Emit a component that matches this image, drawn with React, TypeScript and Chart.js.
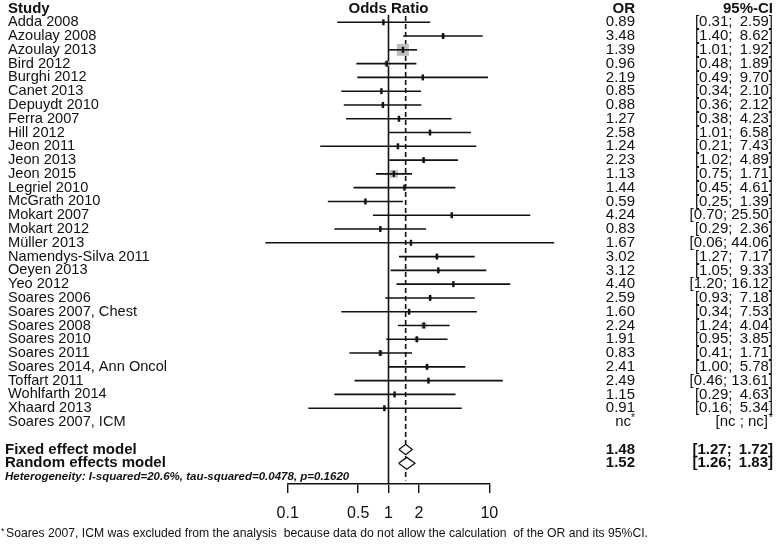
import React, { useEffect, useRef } from 'react';
import { Chart, registerables } from 'chart.js';

Chart.register(...registerables);

const studies = [
  'Adda 2008', 'Azoulay 2008', 'Azoulay 2013', 'Bird 2012', 'Burghi 2012', 'Canet 2013',
  'Depuydt 2010', 'Ferra 2007', 'Hill 2012', 'Jeon 2011', 'Jeon 2013', 'Jeon 2015',
  'Legriel 2010', 'McGrath 2010', 'Mokart 2007', 'Mokart 2012', 'Müller 2013',
  'Namendys-Silva 2011', 'Oeyen 2013', 'Yeo 2012', 'Soares 2006', 'Soares 2007, Chest',
  'Soares 2008', 'Soares 2010', 'Soares 2011', 'Soares 2014, Ann Oncol', 'Toffart 2011',
  'Wohlfarth 2014', 'Xhaard 2013', 'Soares 2007, ICM',
];
const oddsRatios: (number | null)[] = [
  0.89, 3.48, 1.39, 0.96, 2.19, 0.85, 0.88, 1.27, 2.58, 1.24, 2.23, 1.13, 1.44, 0.59, 4.24,
  0.83, 1.67, 3.02, 3.12, 4.40, 2.59, 1.60, 2.24, 1.91, 0.83, 2.41, 2.49, 1.15, 0.91, null,
];
const ciLower: (number | null)[] = [
  0.31, 1.40, 1.01, 0.48, 0.49, 0.34, 0.36, 0.38, 1.01, 0.21, 1.02, 0.75, 0.45, 0.25, 0.70,
  0.29, 0.06, 1.27, 1.05, 1.20, 0.93, 0.34, 1.24, 0.95, 0.41, 1.00, 0.46, 0.29, 0.16, null,
];
const ciUpper: (number | null)[] = [
  2.59, 8.62, 1.92, 1.89, 9.70, 2.10, 2.12, 4.23, 6.58, 7.43, 4.89, 1.71, 4.61, 1.39, 25.50,
  2.36, 44.06, 7.17, 9.33, 16.12, 7.18, 7.53, 4.04, 3.85, 1.71, 5.78, 13.61, 4.63, 5.34, null,
];
// apparent side (px) of the grey weight squares
const squareSides: (number | null)[] = [
  3, 4, 12, 5, 3, 3, 3, 3, 3, 3, 4, 8, 3, 3.5, 2.5, 3, 2, 3.5, 3, 3, 3.5, 3, 6, 5, 5, 4, 3,
  3, 3, null,
];

const modelLabels = ['Fixed effect model', 'Random effects model'];
const modelOR = [1.48, 1.52];
const modelLower = [1.27, 1.26];
const modelUpper = [1.72, 1.83];

const heterogeneityText = 'Heterogeneity: I-squared=20.6%, tau-squared=0.0478, p=0.1620';
const footnoteText =
  'Soares 2007, ICM was excluded from the analysis  because data do not allow the calculation  of the OR and its 95%CI.';

const tickValues = [0.1, 0.5, 1, 2, 10];
const tickLabels = ['0.1', '0.5', '1', '2', '10'];

const FONT = '"Liberation Sans", Arial, Helvetica, sans-serif';
const NARROW = '"Liberation Sans Narrow", "Arial Narrow", "Liberation Sans", Arial, sans-serif';
const INK = '#111111';

const fmt = (v: number) => v.toFixed(2);
const fmtCI = (lo: number, hi: number) => `[${fmt(lo)}; ${hi < 10 ? '\u2009' : ''}${fmt(hi)}]`;

const nStudies = studies.length;
const modelRow = (k: number) => nStudies + 2 + k;
const hetRow = nStudies + 4;
const yMax = nStudies + 4.5;

const textPlugin = {
  id: 'forestText',
  afterDraw(chart: any) {
    const ctx: CanvasRenderingContext2D = chart.ctx;
    const ys = chart.scales.y;
    const xs = chart.scales.x;
    const orX = 635;
    const ciX = 773;
    ctx.save();
    ctx.fillStyle = INK;
    ctx.textBaseline = 'middle';

    // headers
    const y0 = ys.getPixelForValue(0);
    ctx.font = `bold 15px ${FONT}`;
    ctx.textAlign = 'left';
    ctx.fillText('Study', 8, y0);
    ctx.textAlign = 'center';
    ctx.fillText('Odds Ratio', xs.getPixelForValue(1), y0);
    ctx.textAlign = 'right';
    ctx.fillText('OR', orX, y0);
    ctx.fillText('95%-CI', ciX, y0);

    // studies
    studies.forEach((name, i) => {
      const y = ys.getPixelForValue(i + 1);
      ctx.font = `14.6px ${FONT}`;
      ctx.textAlign = 'left';
      ctx.fillText(name, 8, y);
      const or = oddsRatios[i];
      const lo = ciLower[i];
      const hi = ciUpper[i];
      ctx.font = `15px ${FONT}`;
      ctx.textAlign = 'right';
      if (or == null || lo == null || hi == null) {
        ctx.fillText('nc', orX - 4, y);
        ctx.fillText('[nc ; nc]', ciX - 5, y);
        ctx.font = `10px ${FONT}`;
        ctx.fillText('*', orX, y - 4);
        ctx.fillText('*', ciX, y - 4);
      } else {
        ctx.fillText(fmt(or), orX, y);
        ctx.fillText(fmtCI(lo, hi), ciX, y);
      }
    });

    // models
    modelLabels.forEach((label, k) => {
      const y = ys.getPixelForValue(modelRow(k));
      ctx.font = `bold 15px ${FONT}`;
      ctx.textAlign = 'left';
      ctx.fillText(label, 5, y);
      ctx.textAlign = 'right';
      ctx.fillText(fmt(modelOR[k]), orX, y);
      ctx.fillText(fmtCI(modelLower[k], modelUpper[k]), ciX, y);
    });

    // heterogeneity
    ctx.font = `italic bold 11.5px ${FONT}`;
    ctx.textAlign = 'left';
    ctx.fillText(heterogeneityText, 5, ys.getPixelForValue(hetRow), 347);

    // footnote
    ctx.font = `9px ${FONT}`;
    ctx.fillText('*', 1, 532);
    ctx.font = `13px ${NARROW}`;
    ctx.fillText(footnoteText, 6, 533, 642);
    ctx.restore();
  },
};

export default function App() {
  const canvasRef = useRef<HTMLCanvasElement | null>(null);

  useEffect(() => {
    const canvas = canvasRef.current;
    if (!canvas) return;

    const datasets: any[] = [];

    // black point-estimate ticks (drawn on top)
    datasets.push({
      label: 'estimates',
      data: oddsRatios
        .map((v, i) => (v == null ? null : { x: v, y: i + 1 }))
        .filter((p) => p !== null),
      showLine: false,
      pointStyle: 'line',
      rotation: 90,
      pointRadius: 3,
      pointBorderWidth: 2.4,
      borderColor: INK,
      backgroundColor: INK,
      clip: false,
    });

    // summary diamonds
    modelOR.forEach((est, k) => {
      const r = modelRow(k);
      const h = k === 0 ? 0.38 : 0.43;
      datasets.push({
        label: modelLabels[k],
        data: [
          { x: modelLower[k], y: r },
          { x: est, y: r - h },
          { x: modelUpper[k], y: r },
          { x: est, y: r + h },
          { x: modelLower[k], y: r },
        ],
        showLine: true,
        tension: 0,
        pointRadius: 0,
        borderColor: INK,
        borderWidth: 1.3,
        backgroundColor: '#ffffff',
        fill: 'shape',
        clip: false,
      });
    });

    // confidence interval lines
    studies.forEach((name, i) => {
      const lo = ciLower[i];
      const hi = ciUpper[i];
      if (lo == null || hi == null) return;
      datasets.push({
        label: name,
        data: [
          { x: lo, y: i + 1 },
          { x: hi, y: i + 1 },
        ],
        showLine: true,
        pointRadius: 0,
        borderColor: INK,
        borderWidth: 1.6,
        clip: false,
      });
    });

    // grey weight squares
    const sqData: any[] = [];
    const sqRadius: number[] = [];
    oddsRatios.forEach((v, i) => {
      const s = squareSides[i];
      if (v == null || s == null) return;
      sqData.push({ x: v, y: i + 1 });
      sqRadius.push(s / Math.SQRT2);
    });
    datasets.push({
      label: 'weights',
      data: sqData,
      showLine: false,
      pointStyle: 'rect',
      pointRadius: sqRadius,
      pointBorderWidth: 0,
      borderWidth: 0,
      backgroundColor: '#bdbdbd',
      clip: false,
    });

    // dashed line at fixed-effect estimate
    datasets.push({
      label: 'fixed line',
      data: [
        { x: modelOR[0], y: 0.55 },
        { x: modelOR[0], y: yMax - 0.25 },
      ],
      showLine: true,
      pointRadius: 0,
      borderColor: INK,
      borderWidth: 1.6,
      borderDash: [5, 3],
      clip: false,
    });

    // solid line of no effect
    datasets.push({
      label: 'no effect',
      data: [
        { x: 1, y: 0.45 },
        { x: 1, y: yMax },
      ],
      showLine: true,
      pointRadius: 0,
      borderColor: INK,
      borderWidth: 1.6,
      clip: false,
    });

    const chart = new Chart(canvas, {
      type: 'scatter',
      data: { datasets },
      options: {
        animation: false,
        responsive: false,
        events: [],
        layout: { padding: { left: 287.7, right: 288.7, top: 7.9, bottom: 0 } },
        plugins: {
          legend: { display: false },
          tooltip: { enabled: false },
        },
        scales: {
          x: {
            type: 'logarithmic',
            min: 0.1,
            max: 10,
            afterBuildTicks: (scale: any) => {
              scale.ticks = tickValues.map((v) => ({ value: v }));
            },
            afterFit: (scale: any) => {
              scale.height = 61;
            },
            grid: {
              drawOnChartArea: false,
              drawTicks: true,
              tickLength: 9,
              color: INK,
              lineWidth: 1.4,
            },
            border: { display: true, color: INK, width: 1.4 },
            ticks: {
              autoSkip: false,
              maxRotation: 0,
              padding: 11,
              color: INK,
              font: { family: NARROW, size: 16 },
              callback: (v: any) => {
                const idx = tickValues.indexOf(Number(v));
                return idx >= 0 ? tickLabels[idx] : '';
              },
            },
          },
          y: {
            type: 'linear',
            reverse: true,
            min: 0,
            max: yMax,
            display: false,
          },
        },
      },
      plugins: [textPlugin],
    });

    return () => chart.destroy();
  }, []);

  return (
    <div style={{ position: 'fixed', left: 0, top: 0, width: 778, height: 545, background: '#ffffff' }}>
      <canvas ref={canvasRef} width={778} height={545} />
    </div>
  );
}
